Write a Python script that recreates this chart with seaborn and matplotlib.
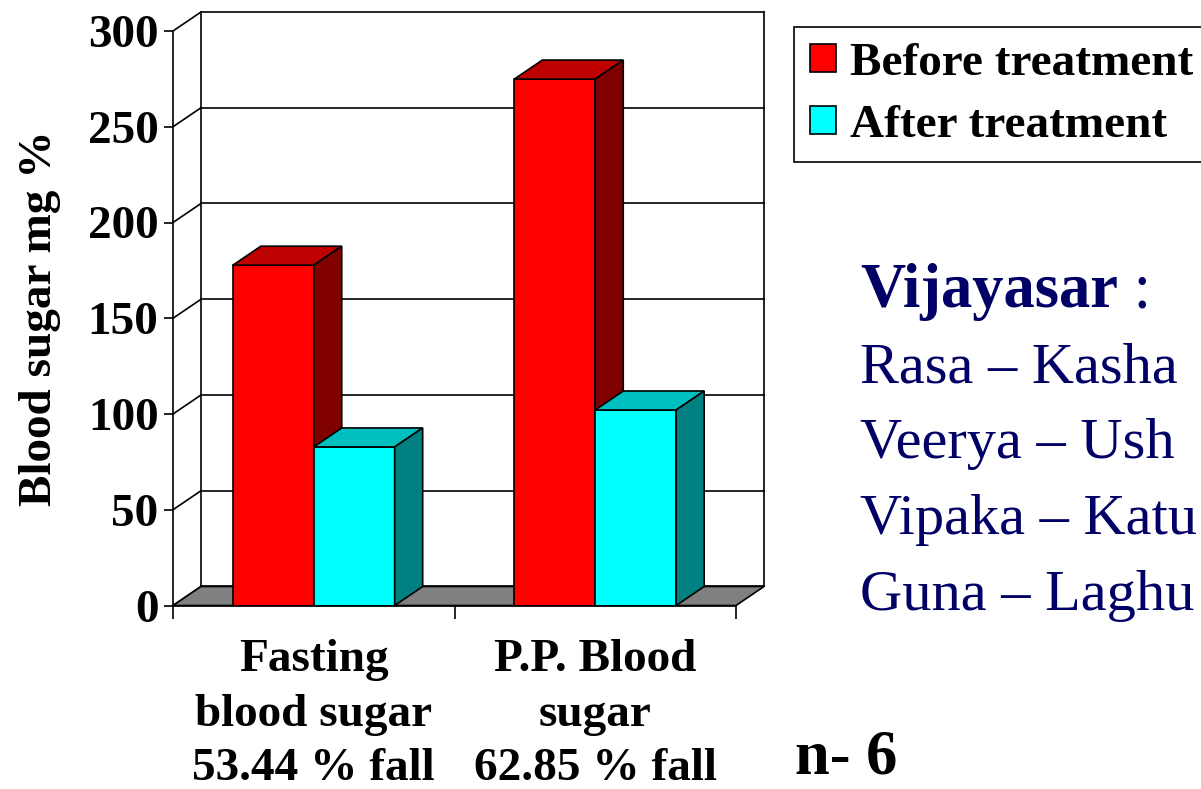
import matplotlib
matplotlib.use("Agg")
import matplotlib.pyplot as plt
import seaborn as sns
import pandas as pd
from matplotlib.patches import Polygon

# data
categories = ["Fasting\nblood sugar\n53.44 % fall", "P.P. Blood\nsugar\n62.85 % fall"]
series = ["Before treatment", "After treatment"]
before = [177.7, 274.9]
after = [82.8, 102.1]
yticks = [0, 50, 100, 150, 200, 250, 300]
notes_title = "Vijayasar"
notes = ["Rasa – Kasha", "Veerya – Ush", "Vipaka – Katu", "Guna – Laghu"]
n_label = "n- 6"

front = ["#FF0000", "#00FFFF"]
tops = ["#BF0000", "#00BFBF"]
sides = ["#800000", "#008080"]
navy = "#000066"

df = pd.DataFrame({
    "Category": categories * 2,
    "Series": [series[0]] * 2 + [series[1]] * 2,
    "Value": before + after,
})

sns.set_theme(style="white")
plt.rcParams["font.family"] = ["Liberation Serif", "DejaVu Serif"]
plt.rcParams["font.weight"] = "bold"

W, H = 1201, 789
fig = plt.figure(figsize=(W / 100, H / 100), dpi=100)
fig.patch.set_facecolor("white")
ax = fig.add_axes([173 / W, 1 - 605.5 / H, 563 / W, 574.5 / H])

sns.barplot(data=df, x="Category", y="Value", hue="Series", palette=front,
            saturation=1, width=0.575, edgecolor="black", linewidth=1.2, ax=ax)
ax.set_xlim(-0.5, 1.5)
ax.set_ylim(0, 300)
ax.set_facecolor("none")

# depth offset of the pseudo-3D box, in data units
p0 = ax.transData.transform((0, 0))
p1 = ax.transData.transform((1, 1))
dx = 28 / (p1[0] - p0[0])
dy = 19 / (p1[1] - p0[1])
x0, x1 = ax.get_xlim()

lk = dict(color="black", lw=1.2, clip_on=False, solid_capstyle="projecting")
# back wall with gridlines, left wall diagonals
for t in yticks:
    ax.plot([x0 + dx, x1 + dx], [t + dy, t + dy], zorder=0.5, **lk)
    ax.plot([x0, x0 + dx], [t, t + dy], zorder=0.5, **lk)
ax.plot([x0 + dx, x0 + dx], [dy, yticks[-1] + dy], zorder=0.5, **lk)
ax.plot([x1 + dx, x1 + dx], [dy, yticks[-1] + dy], zorder=0.5, **lk)
# floor
ax.add_patch(Polygon([(x0, 0), (x1, 0), (x1 + dx, dy), (x0 + dx, dy)], closed=True,
                     facecolor="#808080", edgecolor="black", lw=1.2, zorder=1, clip_on=False))

# top and side faces of each bar
for i, cont in enumerate(ax.containers):
    z = 3 + i
    for bar in cont:
        bx0 = bar.get_x()
        bx1 = bx0 + bar.get_width()
        h = bar.get_height()
        bar.set_zorder(z)
        ax.add_patch(Polygon([(bx0, h), (bx1, h), (bx1 + dx, h + dy), (bx0 + dx, h + dy)],
                             closed=True, facecolor=tops[i], edgecolor="black", lw=1.2,
                             zorder=z, clip_on=False))
        ax.add_patch(Polygon([(bx1, 0), (bx1, h), (bx1 + dx, h + dy), (bx1 + dx, dy)],
                             closed=True, facecolor=sides[i], edgecolor="black", lw=1.2,
                             zorder=z, clip_on=False))

for s in ["top", "right"]:
    ax.spines[s].set_visible(False)
for s in ["left", "bottom"]:
    ax.spines[s].set_color("black")
    ax.spines[s].set_linewidth(1.2)
    ax.spines[s].set_zorder(6)

ax.set_yticks(yticks)
ax.tick_params(axis="y", direction="out", length=6.5, width=1.2, color="black",
               labelsize=34, labelcolor="black", pad=4, left=True)
ax.set_xticks([0, 1])
ax.set_xticks([x0, 0.5, x1], minor=True)
ax.tick_params(axis="x", which="major", length=0, labelsize=34, labelcolor="black", pad=24)
ax.tick_params(axis="x", which="minor", direction="out", length=9.5, width=1.2,
               color="black", bottom=True)
for lab in ax.get_xticklabels():
    lab.set_linespacing(1.4)
ax.set_xlabel("")
ax.set_ylabel("Blood sugar mg %", fontsize=34, fontweight="bold", color="black")
ax.yaxis.set_label_coords((61 - 173) / 563, 0.5)

sns.move_legend(ax, "upper left", bbox_to_anchor=(794 / W, 1 - 27 / H),
                bbox_transform=fig.transFigure, title=None, fontsize=34,
                frameon=True, fancybox=False, framealpha=1, edgecolor="black",
                handlelength=0.55, handleheight=0.55, handletextpad=0.3,
                labelspacing=0.43, borderpad=0.33, borderaxespad=0)
leg = ax.get_legend()
leg.get_frame().set_linewidth(1.2)
for t in leg.get_texts():
    t.set_color("black")

title = fig.text(860 / W, 1 - 307 / H, notes_title, fontsize=45, fontweight="bold",
                 color=navy, va="baseline", ha="left")
ax.annotate(" :", xy=(1, 0), xycoords=title, fontsize=45, fontweight="normal",
            color=navy, va="bottom", ha="left", annotation_clip=False)
for k, line in enumerate(notes):
    fig.text(860 / W, 1 - (382 + 76 * k) / H, line, fontsize=42, fontweight="normal",
             color=navy, va="baseline", ha="left")

fig.text(795 / W, 1 - 787 / H, n_label, fontsize=45, fontweight="bold", color="black",
         va="bottom", ha="left")

fig.savefig("out.png", dpi=100, facecolor="white")
